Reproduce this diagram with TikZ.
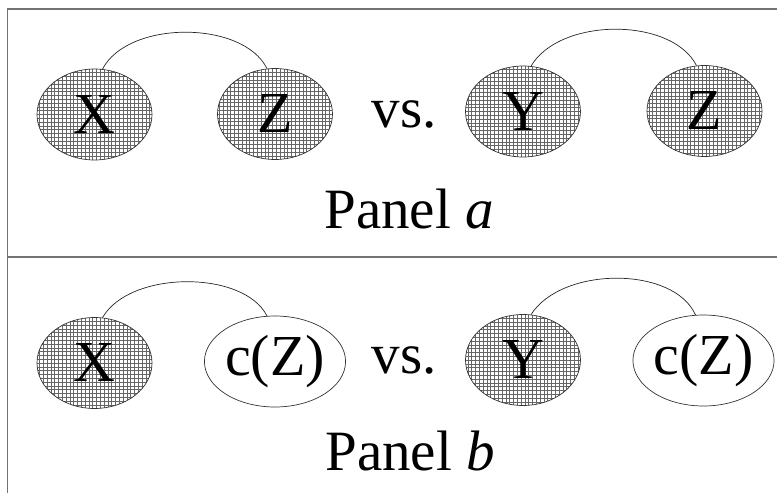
\documentclass[tikz,border=0pt]{standalone}
\usepackage{fontspec}
\setmainfont{Liberation Serif}
\usetikzlibrary{shapes.geometric}
\begin{document}
\begin{tikzpicture}[x=1pt,y=-1pt,
  frameline/.style={draw=black!55,line width=1.6pt},
  var/.style={ellipse,draw=black!80,line width=0.7pt,minimum width=115pt,minimum height=91pt,inner sep=0pt,font=\fontsize{58}{58}\selectfont},
  observed/.style={var,fill=white,path picture={\draw[black!60,line width=0.5pt,step=3.8pt] (path picture bounding box.south west) grid (path picture bounding box.north east);}},
  latent/.style={var,fill=white},
  link/.style={draw=black!85,line width=0.7pt},
  lbl/.style={font=\fontsize{57}{57}\selectfont,inner sep=0pt}
]
\useasboundingbox (0,0) rectangle (777,493);
\path[frameline] (777,9) -- (7.5,9) -- (7.5,493);
\path[frameline] (7.5,257) -- (777,257);
% Panel a
\node[observed] (xa) at (94.5,114.5) {X};
\node[observed] (za) at (275,114) {Z};
\node[lbl] (vsa) at (404,114) {vs.};
\node[observed] (ya) at (523,111.5) {Y};
\node[observed] (z2a) at (704.5,111) {Z};
\draw[link] (xa.80) .. controls (128,20) and (243,20) .. (za.100);
\draw[link] (ya.80) .. controls (560,17) and (672,17) .. (z2a.100);
\node[lbl,anchor=base] (pa) at (409,228) {Panel \textit{a}};
% Panel b
\node[observed] (xb) at (94.5,363) {X};
\node[latent] (zb) at (275,361.5) {c(Z)};
\node[lbl] (vsb) at (404,360) {vs.};
\node[observed] (yb) at (523,360) {Y};
\node[latent] (z2b) at (703.5,360.5) {c(Z)};
\draw[link] (xb.80) .. controls (130,270) and (244,270) .. (zb.100);
\draw[link] (yb.80) .. controls (562,266) and (674,266) .. (z2b.100);
\node[lbl,anchor=base] (pb) at (410,470) {Panel \textit{b}};
\end{tikzpicture}
\end{document}
